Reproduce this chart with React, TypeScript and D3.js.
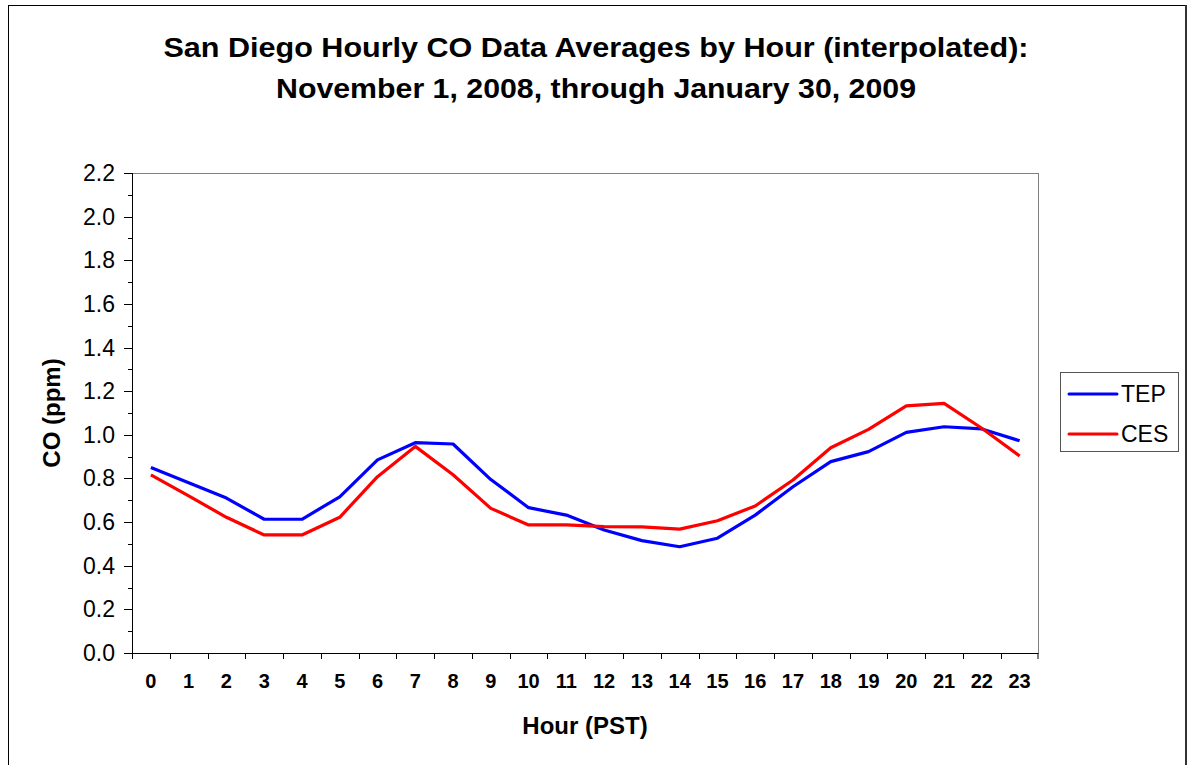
import * as d3 from 'd3';
import React from 'react';

// hourly averages (ppm)
const hours = ['0', '1', '2', '3', '4', '5', '6', '7', '8', '9', '10', '11', '12', '13', '14', '15', '16', '17', '18', '19', '20', '21', '22', '23'];
const tep = [0.85, 0.78, 0.71, 0.613, 0.613, 0.716, 0.885, 0.964, 0.958, 0.795, 0.666, 0.632, 0.564, 0.515, 0.487, 0.526, 0.632, 0.762, 0.877, 0.923, 1.011, 1.037, 1.027, 0.973];
const ces = [0.816, 0.72, 0.622, 0.541, 0.541, 0.622, 0.808, 0.947, 0.817, 0.663, 0.587, 0.587, 0.579, 0.578, 0.568, 0.606, 0.674, 0.793, 0.941, 1.025, 1.133, 1.144, 1.03, 0.903];
const seriesNames = ['TEP', 'CES'];
const seriesColors = ['#0000ff', '#ff0000'];
const yTicks = [0, 0.2, 0.4, 0.6, 0.8, 1.0, 1.2, 1.4, 1.6, 1.8, 2.0, 2.2];
const yMinor = [0.1, 0.3, 0.5, 0.7, 0.9, 1.1, 1.3, 1.5, 1.7, 1.9, 2.1];
const titleLines = ['San Diego Hourly CO Data Averages by Hour (interpolated):', 'November 1, 2008, through January 30, 2009'];

const W = 1188, H = 765;
const plot = { left: 132, right: 1038.5, top: 173, bottom: 653 };
// title line widths / baselines as measured on the picture
const titleWidths = [865, 640];
const titleY = [57, 98];

const App = () => {
    const x = d3.scaleBand().domain(hours).range([plot.left, plot.right]);
    const y = d3.scaleLinear().domain([0, 2.2]).range([plot.bottom, plot.top]);
    const bw = x.bandwidth();

    const line = d3.line<number>()
        .x((d, i) => (x(hours[i]) as number) + bw / 2)
        .y(d => y(d));

    const font = 'Arial, "Liberation Sans", sans-serif';

    return <svg width={W} height={H} style={{ position: 'absolute', left: 0, top: 0, fontFamily: font }}>
        <rect x={0} y={0} width={W} height={H} fill="#fff" />
        {/* outer chart border */}
        <rect x={8.5} y={5.5} width={1177} height={H + 10} fill="none" stroke="#000" strokeWidth={1} />
        <line x1={1186} x2={1186} y1={5} y2={H} stroke="#333" strokeWidth={2} />

        {titleLines.map((t, i) =>
            <text key={i} x={596} y={titleY[i]} textAnchor="middle" fontSize={28} fontWeight="bold"
                textLength={titleWidths[i]} lengthAdjust="spacingAndGlyphs">{t}</text>
        )}

        {/* plot frame */}
        <line x1={plot.left} x2={plot.right} y1={plot.top + 0.5} y2={plot.top + 0.5} stroke="#808080" />
        <line x1={plot.right} x2={plot.right} y1={plot.top} y2={plot.bottom} stroke="#808080" />

        {/* y axis */}
        <line x1={plot.left + 0.5} x2={plot.left + 0.5} y1={plot.top} y2={plot.bottom} stroke="#000" />
        {yTicks.map(t =>
            <g key={'yt' + t}>
                <line x1={plot.left - 8} x2={plot.left} y1={Math.round(y(t)) + 0.5} y2={Math.round(y(t)) + 0.5} stroke="#000" />
                <text x={plot.left - 17} y={y(t) + 8} textAnchor="end" fontSize={23}>{t.toFixed(1)}</text>
            </g>
        )}
        {yMinor.map(t =>
            <line key={'ym' + t} x1={plot.left - 4} x2={plot.left} y1={Math.round(y(t)) + 0.5} y2={Math.round(y(t)) + 0.5} stroke="#000" />
        )}
        <text transform={`translate(60,${(plot.top + plot.bottom) / 2}) rotate(-90)`} textAnchor="middle" fontSize={24} fontWeight="bold">CO (ppm)</text>

        {/* x axis */}
        <line x1={plot.left} x2={plot.right} y1={plot.bottom + 0.5} y2={plot.bottom + 0.5} stroke="#000" />
        {hours.map(h =>
            <line key={'xt' + h} x1={Math.round(x(h) as number) + 0.5} x2={Math.round(x(h) as number) + 0.5} y1={plot.bottom} y2={plot.bottom + 6} stroke="#000" />
        )}
        <line x1={plot.right - 0.5} x2={plot.right - 0.5} y1={plot.bottom} y2={plot.bottom + 6} stroke="#000" />
        {hours.map(h =>
            <text key={'xl' + h} x={(x(h) as number) + bw / 2} y={688} textAnchor="middle" fontSize={20} fontWeight="bold">{h}</text>
        )}
        <text x={585} y={734} textAnchor="middle" fontSize={24} fontWeight="bold">Hour (PST)</text>

        {/* series */}
        {[tep, ces].map((s, i) =>
            <path key={seriesNames[i]} d={line(s) as string} fill="none" stroke={seriesColors[i]} strokeWidth={3.2} strokeLinejoin="round" />
        )}

        {/* legend */}
        <rect x={1060.5} y={372.5} width={118} height={79} fill="#fff" stroke="#555" />
        {seriesNames.map((n, i) =>
            <g key={'lg' + n}>
                <line x1={1069} x2={1117} y1={394 + i * 40} y2={394 + i * 40} stroke={seriesColors[i]} strokeWidth={3} strokeLinecap="round" />
                <text x={1121} y={402 + i * 40} fontSize={23}>{n}</text>
            </g>
        )}
    </svg>;
};

export default App;
